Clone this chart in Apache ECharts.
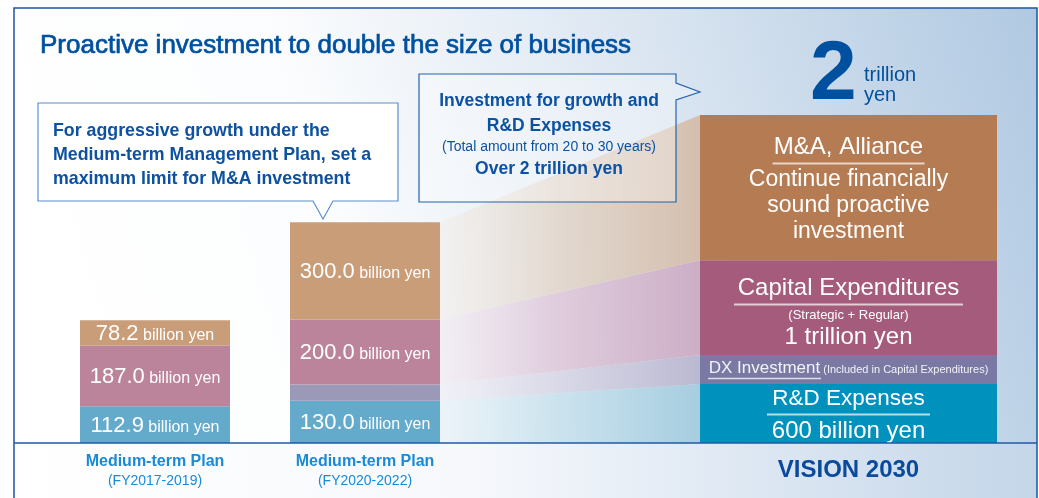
<!DOCTYPE html>
<html><head><meta charset="utf-8">
<script src="https://cdn.jsdelivr.net/npm/echarts@6/dist/echarts.min.js"></script>
<style>html,body{margin:0;padding:0;background:#fff}#c{width:1039px;height:498px}</style>
</head><body><div id="c"></div>
<script>
// ---------- data ----------
const planCategories = ['Medium-term Plan\n(FY2017-2019)', 'Medium-term Plan\n(FY2020-2022)'];
const visionCategory = ['VISION 2030'];
const bandCategories = ['FY2020-2022', 'VISION 2030'];
// billion yen
const rdValues    = [112.9, 130.0];
const dxValues    = [0, 50];      // unlabeled DX slice in FY2020-2022
const capexValues = [187.0, 200.0];
const maValues    = [78.2, 300.0];
// VISION 2030 column is drawn schematically; heights in the same scale
const visionRD    = [182];
const visionDX    = [89];
const visionCapex = [292];
const visionMA    = [447];
const yMax = 1010;

// ---------- chart ----------
const chart = echarts.init(document.getElementById('c'));
const FONT = '"Liberation Sans", Arial, Helvetica, sans-serif';
const DARK = '#0050a0';

const planLabel = {
  show: true, position: 'inside', color: '#fff', fontFamily: FONT,
  formatter: p => p.value ? '{n|' + p.value.toFixed(1) + '}{u| billion yen}' : '',
  rich: {
    n: {fontSize: 22, height: 22, lineHeight: 24, verticalAlign: 'bottom', color: '#fff', fontFamily: FONT},
    u: {fontSize: 16, height: 18, lineHeight: 20, verticalAlign: 'bottom', color: '#fff', fontFamily: FONT}
  }
};
const uline = (w) => ({width: w, height: 2, lineHeight: 6, backgroundColor: 'rgba(255,255,255,0.7)'});
const big = (fs, lh) => ({fontSize: fs, lineHeight: lh, color: '#fff', fontFamily: FONT});

function planBar(name, data, color, label) {
  return {name, type: 'bar', xAxisIndex: 0, yAxisIndex: 0, stack: 'plan', barWidth: 150,
    data, itemStyle: {color}, label: label ? planLabel : {show: false}, emphasis: {disabled: true}};
}
function visionBar(name, data, color, label) {
  return {name, type: 'bar', xAxisIndex: 1, yAxisIndex: 1, stack: 'vision', barWidth: 297,
    data, itemStyle: {color}, label, emphasis: {disabled: true}};
}
function band(name, from, to, c0, c1, c2) {
  return {name, type: 'line', xAxisIndex: 2, yAxisIndex: 2, stack: 'band', symbol: 'none',
    data: [from, to], lineStyle: {width: 0}, z: 1, silent: true,
    areaStyle: {opacity: 1, color: new echarts.graphic.LinearGradient(0, 0, 1, 0, [
      {offset: 0, color: c0}, {offset: 0.45, color: c1}, {offset: 1, color: c2}])}};
}

const bgTop = new echarts.graphic.LinearGradient(0, 0.7, 1, 0, [
  {offset: 0, color: '#ffffff'}, {offset: 0.3, color: '#fcfdfe'},
  {offset: 0.62, color: '#dde7f2'}, {offset: 1, color: '#b0c9e2'}]);
const bgBottom = new echarts.graphic.LinearGradient(0, 0, 1, 0, [
  {offset: 0, color: '#ffffff'}, {offset: 0.45, color: '#f6f8fc'}, {offset: 1, color: '#c4d6e9'}]);

function txt(text, x, y, font, fill, align, strokeW) {
  const style = {text, font, fill, align: align || 'left', textAlign: align || 'left',
                 verticalAlign: 'middle', textVerticalAlign: 'middle'};
  if (strokeW) { style.stroke = fill; style.lineWidth = strokeW; }
  return {type: 'text', x, y, z: 30, silent: true, style};
}

const option = {
  animation: false,
  backgroundColor: '#ffffff',
  grid: [
    {left: 50, width: 420, top: 115, bottom: 55},
    {left: 678, width: 341, top: 115, bottom: 55},
    {left: 440, width: 260, top: 115, bottom: 55}
  ],
  xAxis: [
    {gridIndex: 0, type: 'category', data: planCategories,
     axisLine: {show: false}, axisTick: {show: false},
     axisLabel: {margin: 9, fontFamily: FONT,
       formatter: v => { const s = v.split('\n'); return '{a|' + s[0] + '}\n{b|' + s[1] + '}'; },
       rich: {a: {fontSize: 16, fontWeight: 'bold', lineHeight: 20, color: '#1a8ad6', fontFamily: FONT},
              b: {fontSize: 14, lineHeight: 18, color: '#1a8ad6', fontFamily: FONT}}}},
    {gridIndex: 1, type: 'category', data: visionCategory,
     axisLine: {show: false}, axisTick: {show: false},
     axisLabel: {margin: 13, fontSize: 24, fontWeight: 'bold', color: '#0a4a9c', fontFamily: FONT, lineHeight: 28}},
    {gridIndex: 2, type: 'category', data: bandCategories, boundaryGap: false, show: false}
  ],
  yAxis: [0, 1, 2].map(i => ({gridIndex: i, type: 'value', min: 0, max: yMax, show: false})),
  series: [
    planBar('R&D Expenses', rdValues, '#63aacb', true),
    planBar('DX Investment', dxValues, '#9a99b7', false),
    planBar('Capital Expenditures', capexValues, '#bc849b', true),
    planBar('M&A, Alliance', maValues, '#c89d78', true),

    visionBar('R&D Expenses', visionRD, '#0091bc', {
      show: true, position: 'inside', offset: [0, 2],
      formatter: '{h|R&D Expenses}\n{l|}\n{b|600 billion yen}',
      rich: {h: big(22.5, 26), l: uline(163), b: big(24, 28)}}),
    visionBar('DX Investment', visionDX, '#7a79a3', {
      show: true, position: 'inside',
      formatter: '{d|DX Investment}{s| (Included in Capital Expenditures)}\n{l|}{sp|}',
      rich: {d: {fontSize: 17, height: 17, lineHeight: 18, verticalAlign: 'bottom', color: '#f2f2f8', fontFamily: FONT},
             s: {fontSize: 11, height: 13, lineHeight: 18, verticalAlign: 'bottom', color: '#f2f2f8', fontFamily: FONT},
             l: {width: 113, height: 1.5, lineHeight: 4, backgroundColor: 'rgba(255,255,255,0.75)'},
             sp: {width: 168, height: 1, lineHeight: 4}}}),
    visionBar('Capital Expenditures', visionCapex, '#a55b7b', {
      show: true, position: 'inside', offset: [0, 6],
      formatter: '{h|Capital Expenditures}\n{l|}\n{s|(Strategic + Regular)}\n{b|1 trillion yen}',
      rich: {h: big(24, 26), l: uline(229), s: big(13, 16), b: big(24, 28)}}),
    visionBar('M&A, Alliance', visionMA, '#b57b52', {
      show: true, position: 'inside', offset: [0, 2],
      formatter: '{h|M&A, Alliance}\n{l|}\n{b|Continue financially}\n{b|sound proactive}\n{b|investment}',
      rich: {h: big(24, 26), l: uline(152), b: big(23, 26)}}),

    band('R&D band', rdValues[1], visionRD[0], 'rgba(228,240,246,0.6)', 'rgba(200,225,237,0.9)', '#a6cde0'),
    band('DX band', dxValues[1], visionDX[0], 'rgba(236,236,244,0.6)', 'rgba(215,214,230,0.9)', '#bbb9d2'),
    band('Capex band', capexValues[1], visionCapex[0], 'rgba(240,232,240,0.6)', 'rgba(222,200,218,0.9)', '#ccaec6'),
    band('M&A band', maValues[1], visionMA[0], 'rgba(242,238,234,0.6)', 'rgba(226,214,204,0.9)', '#d4bfae')
  ],
  graphic: {elements: [
    {type: 'rect', z: 0, silent: true, shape: {x: 14, y: 8, width: 1023, height: 435}, style: {fill: bgTop}},
    {type: 'rect', z: 0, silent: true, shape: {x: 14, y: 443, width: 1023, height: 60}, style: {fill: bgBottom}},
    {type: 'polyline', z: 40, silent: true, shape: {points: [[14, 505], [14, 8], [1037, 8], [1037, 505]]},
     style: {stroke: '#1a55a0', lineWidth: 1.5, fill: null}},
    {type: 'line', z: 40, silent: true, shape: {x1: 14, y1: 443, x2: 1037, y2: 443},
     style: {stroke: '#1f5aa5', lineWidth: 1.5}},
    txt('Proactive investment to double the size of business', 40, 46, '26px ' + FONT, DARK, 'left', 0.7),
    // callout 1
    {type: 'polygon', z: 30, silent: true,
     shape: {points: [[38, 103], [398, 103], [398, 201], [333, 201], [323, 219], [313, 201], [38, 201]]},
     style: {fill: '#ffffff', stroke: '#5b8fcb', lineWidth: 1.2}},
    txt('For aggressive growth under the', 53, 131, 'bold 17.8px ' + FONT, '#0d52a2'),
    txt('Medium-term Management Plan, set a', 53, 155, 'bold 17.8px ' + FONT, '#0d52a2'),
    txt('maximum limit for M&A investment', 53, 179, 'bold 17.8px ' + FONT, '#0d52a2'),
    // callout 2
    {type: 'polygon', z: 30, silent: true,
     shape: {points: [[419, 74], [676, 74], [676, 83], [700, 92], [676, 100], [676, 202], [419, 202]]},
     style: {fill: 'rgba(255,255,255,0.3)', stroke: '#2563ad', lineWidth: 1.2}},
    txt('Investment for growth and', 549, 101, 'bold 17.5px ' + FONT, '#0d52a2', 'center'),
    txt('R&D Expenses', 549, 126, 'bold 17.5px ' + FONT, '#0d52a2', 'center'),
    txt('(Total amount from 20 to 30 years)', 549, 147, '14px ' + FONT, '#0d52a2', 'center'),
    txt('Over 2 trillion yen', 549, 169, 'bold 17.5px ' + FONT, '#0d52a2', 'center'),
    // 2 trillion yen
    txt('2', 810, 76, 'bold 84px ' + FONT, DARK),
    txt('trillion', 864, 75, '20px ' + FONT, DARK),
    txt('yen', 864, 95, '20px ' + FONT, DARK)
  ]}
};
chart.setOption(option);
</script>
</body></html>
